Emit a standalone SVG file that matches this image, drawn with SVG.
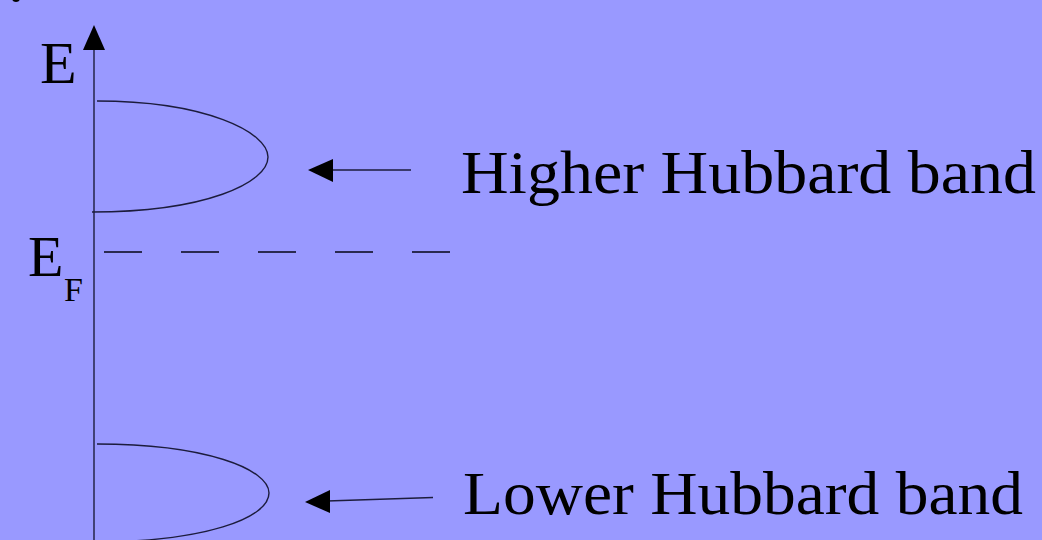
<svg xmlns="http://www.w3.org/2000/svg" width="1042" height="540" viewBox="0 0 1042 540">
  <style>
    .line { fill: none; stroke: #1c1c3c; stroke-width: 1.4; }
    .dash { fill: none; stroke: #2a2a50; stroke-width: 1.8; stroke-dasharray: 38 39; }
    .label { font-family: "Liberation Serif", "DejaVu Serif", serif; fill: #000; }
    .head { fill: #000; }
  </style>
  <rect width="1042" height="540" fill="#9999ff"/>
  <!-- bullet remnant at the top edge -->
  <circle cx="16" cy="-2" r="4" fill="#000"/>

  <g id="axis">
    <line class="line" x1="94" y1="48" x2="94" y2="540"/>
    <polygon class="head" points="94,25 83,50 105,50"/>
    <text class="label" x="40" y="83" font-size="60">E</text>
  </g>

  <g id="fermi-level">
    <text class="label" x="28" y="276" font-size="58">E</text>
    <text class="label" x="64" y="301" font-size="34">F</text>
    <line class="dash" x1="104" y1="252" x2="450" y2="252"/>
  </g>

  <g id="upper-band">
    <path class="line" d="M97,101 C205,101 268,132 268,157 C268,183 205,212 92,212"/>
    <text class="label" x="461" y="193" font-size="61" textLength="575" lengthAdjust="spacingAndGlyphs">Higher Hubbard band</text>
  </g>

  <g id="lower-band">
    <path class="line" d="M97,444 C205,444 269,469 269,493 C269,518 205,542 92,542"/>
    <text class="label" x="463" y="514" font-size="61" textLength="560" lengthAdjust="spacingAndGlyphs">Lower Hubbard band</text>
  </g>

  <g id="connectors">
    <line class="line" x1="411" y1="170" x2="330" y2="170"/>
    <polygon class="head" points="308,170 333,159 333,182"/>
    <line class="line" x1="433" y1="497.5" x2="327" y2="501"/>
    <polygon class="head" points="305,502 330,490 330,513"/>
  </g>
</svg>
